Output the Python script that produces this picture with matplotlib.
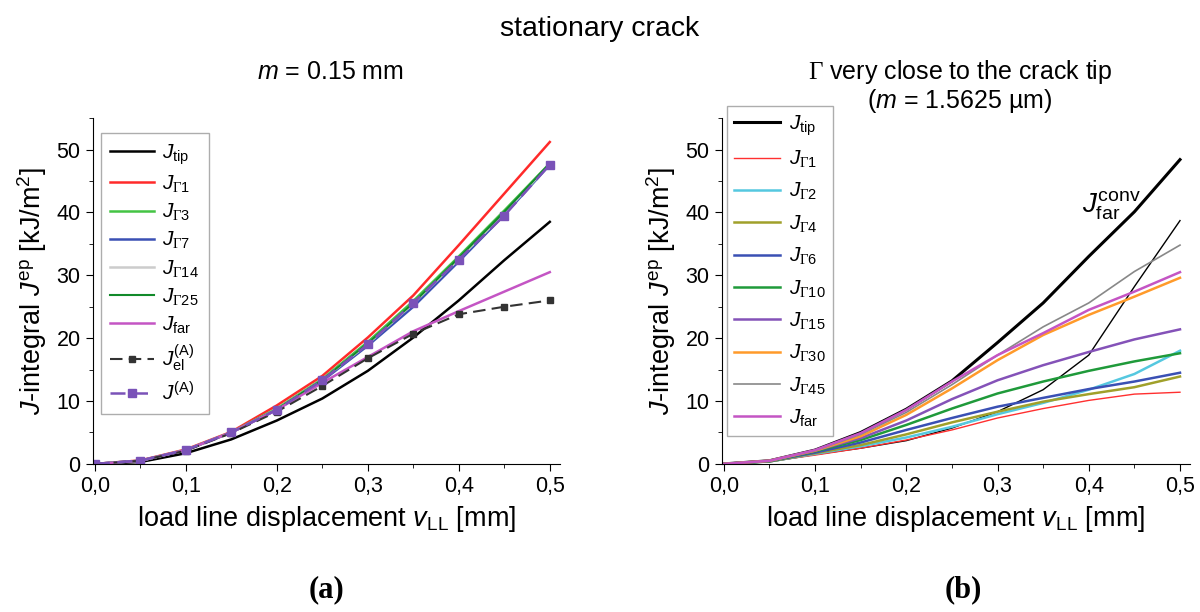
import numpy as np
import matplotlib.pyplot as plt
from matplotlib.ticker import FuncFormatter, MultipleLocator

plt.rcParams['font.family'] = ['Liberation Sans', 'DejaVu Sans']
plt.rcParams['mathtext.fontset'] = 'custom'
# Gamma is drawn with serifs in the original, everything else sans
plt.rcParams['mathtext.rm'] = 'Liberation Serif'
plt.rcParams['mathtext.sf'] = 'Liberation Sans'
plt.rcParams['mathtext.it'] = 'Liberation Sans:italic'
plt.rcParams['mathtext.bf'] = 'Liberation Sans:bold'

# load line displacement [mm]
v = [0.0, 0.05, 0.1, 0.15, 0.2, 0.25, 0.3, 0.35, 0.4, 0.45, 0.5]

# (a) m = 0.15 mm
a_tip = [0, 0.3, 1.7, 3.9, 6.9, 10.4, 14.8, 20.1, 26.0, 32.4, 38.5]
a_g1 = [0, 0.55, 2.3, 5.1, 9.3, 14.0, 20.1, 26.8, 34.8, 43.0, 51.2]
a_g3 = [0, 0.5, 2.2, 5.0, 8.8, 13.5, 19.4, 25.9, 33.0, 40.3, 47.8]
a_g7 = [0, 0.5, 2.2, 5.0, 8.6, 13.2, 18.8, 25.0, 32.2, 39.6, 47.6]
a_g14 = [0, 0.5, 2.2, 5.0, 8.7, 13.4, 19.1, 25.5, 32.6, 39.9, 47.7]
a_g25 = [0, 0.5, 2.2, 5.0, 8.7, 13.4, 19.2, 25.6, 32.8, 40.1, 47.8]
a_far = [0, 0.5, 2.2, 5.0, 8.6, 12.9, 17.0, 21.1, 24.3, 27.4, 30.5]
a_el = [0, 0.5, 2.1, 4.9, 8.3, 12.4, 16.8, 20.7, 23.8, 25.0, 26.0]
a_A = [0, 0.53, 2.2, 5.0, 8.6, 13.3, 19.0, 25.6, 32.5, 39.5, 47.6]

# (b) Gamma very close to the crack tip
b_tip = [0, 0.5, 2.2, 5.0, 8.7, 13.2, 19.3, 25.6, 33.0, 40.1, 48.4]
b_conv = [0, 0.3, 1.5, 2.5, 3.7, 5.7, 8.3, 11.8, 17.3, 28.2, 38.7]
b_g1 = [0, 0.4, 1.4, 2.5, 3.8, 5.4, 7.3, 8.8, 10.1, 11.1, 11.4]
b_g2 = [0, 0.4, 1.6, 2.8, 4.2, 5.9, 7.9, 9.7, 11.8, 14.3, 18.0]
b_g4 = [0, 0.4, 1.7, 3.0, 4.7, 6.6, 8.3, 9.9, 11.1, 12.2, 13.9]
b_g6 = [0, 0.45, 1.8, 3.4, 5.4, 7.3, 9.1, 10.5, 11.9, 13.1, 14.5]
b_g10 = [0, 0.45, 2.0, 3.8, 6.2, 8.8, 11.2, 13.1, 14.8, 16.3, 17.6]
b_g15 = [0, 0.5, 2.1, 4.1, 6.9, 10.3, 13.3, 15.7, 17.8, 19.8, 21.4]
b_g30 = [0, 0.5, 2.1, 4.4, 7.8, 12.0, 16.5, 20.5, 23.7, 26.6, 29.6]
b_g45 = [0, 0.5, 2.1, 4.7, 8.2, 12.6, 17.3, 21.8, 25.6, 30.6, 34.8]
b_far = [0, 0.5, 2.2, 4.9, 8.6, 13.1, 17.3, 20.8, 24.5, 27.4, 30.5]


def comma(x, pos):
    return ('%.1f' % x).replace('.', ',')


def lab(sub):
    # J with a sans subscript, Gamma kept serif
    if sub.startswith('G'):
        return '$J_{\\Gamma\\mathsf{%s}}$' % sub[1:]
    return '$J_{\\mathsf{%s}}$' % sub


def style_ax(ax):
    ax.set_xlim(-0.002, 0.511)
    ax.set_ylim(0, 55)
    ax.spines['top'].set_visible(False)
    ax.spines['right'].set_visible(False)
    ax.xaxis.set_major_locator(MultipleLocator(0.1))
    ax.xaxis.set_minor_locator(MultipleLocator(0.05))
    ax.yaxis.set_major_locator(MultipleLocator(10))
    ax.yaxis.set_minor_locator(MultipleLocator(5))
    ax.xaxis.set_major_formatter(FuncFormatter(comma))
    ax.tick_params(which='major', length=5, labelsize=15.5, pad=4)
    ax.tick_params(which='minor', length=3)
    ax.set_xlabel('load line displacement $v_{\\mathsf{LL}}$ [mm]', fontsize=19.5, labelpad=5)
    ax.set_ylabel('$J$-integral $J^{\\mathsf{ep}}$ [kJ/m$^{\\mathsf{2}}$]', fontsize=19.5, labelpad=5)


fig = plt.figure(figsize=(12, 6.12), dpi=100)
ax1 = fig.add_axes([0.0775, 0.242, 0.389, 0.565])
ax2 = fig.add_axes([0.6017, 0.242, 0.39, 0.565])

ax1.plot(v, a_tip, color='black', lw=1.8, label=lab('tip'))
ax1.plot(v, a_g1, color='#ff2a2a', lw=1.8, label=lab('G1'))
ax1.plot(v, a_g3, color='#44c444', lw=1.8, label=lab('G3'))
ax1.plot(v, a_g7, color='#3a50b4', lw=1.8, label=lab('G7'))
ax1.plot(v, a_g14, color='#cccccc', lw=1.8, label=lab('G14'))
ax1.plot(v, a_g25, color='#118a2a', lw=1.5, label=lab('G25'))
ax1.plot(v, a_far, color='#c455c4', lw=1.8, label=lab('far'))
ax1.plot(v, a_el, color='#333333', lw=1.5, ls=(0, (6, 3)), marker='s', ms=5,
         label='$J^{\\mathsf{(A)}}_{\\mathsf{el}}$')
ax1.plot(v, a_A, color='#7a52b8', lw=1.8, ls=(0, (6, 3)), marker='s', ms=6,
         label='$J^{\\mathsf{(A)}}$')
style_ax(ax1)
ax1.legend(loc='upper left', bbox_to_anchor=(0.017, 0.957), fontsize=15,
           fancybox=False, edgecolor='#999999', handlelength=2.1,
           labelspacing=0.33, borderpad=0.45, handletextpad=0.4, borderaxespad=0)

ax2.plot(v, b_conv, color='black', lw=1.0)
ax2.plot(v, b_tip, color='black', lw=2.2, label=lab('tip'))
ax2.plot(v, b_g1, color='#ff3030', lw=1.0, label=lab('G1'))
ax2.plot(v, b_g2, color='#55c8e0', lw=1.8, label=lab('G2'))
ax2.plot(v, b_g4, color='#a0a02a', lw=1.8, label=lab('G4'))
ax2.plot(v, b_g6, color='#3a50b4', lw=1.8, label=lab('G6'))
ax2.plot(v, b_g10, color='#1f9a3a', lw=1.8, label=lab('G10'))
ax2.plot(v, b_g15, color='#8452b8', lw=1.8, label=lab('G15'))
ax2.plot(v, b_g30, color='#ff9a2a', lw=1.8, label=lab('G30'))
ax2.plot(v, b_g45, color='#888888', lw=1.2, label=lab('G45'))
ax2.plot(v, b_far, color='#c455c4', lw=1.8, label=lab('far'))
style_ax(ax2)
ax2.legend(loc='upper left', bbox_to_anchor=(0.011, 1.035), fontsize=15,
           fancybox=False, edgecolor='#999999', handlelength=2.2,
           labelspacing=0.53, borderpad=0.35, handletextpad=0.4, borderaxespad=0)
ax2.text(0.393, 40.0, '$J^{\\mathsf{conv}}_{\\mathsf{far}}$', fontsize=20)

# titles
fig.text(0.5, 0.952, 'stationary crack', ha='center', va='center', fontsize=20.5)
fig.text(0.2754, 0.882, '$m$ = 0.15 mm', ha='center', va='center', fontsize=18)
fig.text(0.8, 0.882, '$\\Gamma$ very close to the crack tip', ha='center', va='center', fontsize=18)
fig.text(0.8, 0.835, '($m$ = 1.5625 \u00b5m)', ha='center', va='center', fontsize=18)
fig.text(0.272, 0.036, '(a)', ha='center', va='center', fontsize=22, weight='bold',
         family='Liberation Serif')
fig.text(0.803, 0.036, '(b)', ha='center', va='center', fontsize=22, weight='bold',
         family='Liberation Serif')

plt.savefig('out.png', dpi=100)
